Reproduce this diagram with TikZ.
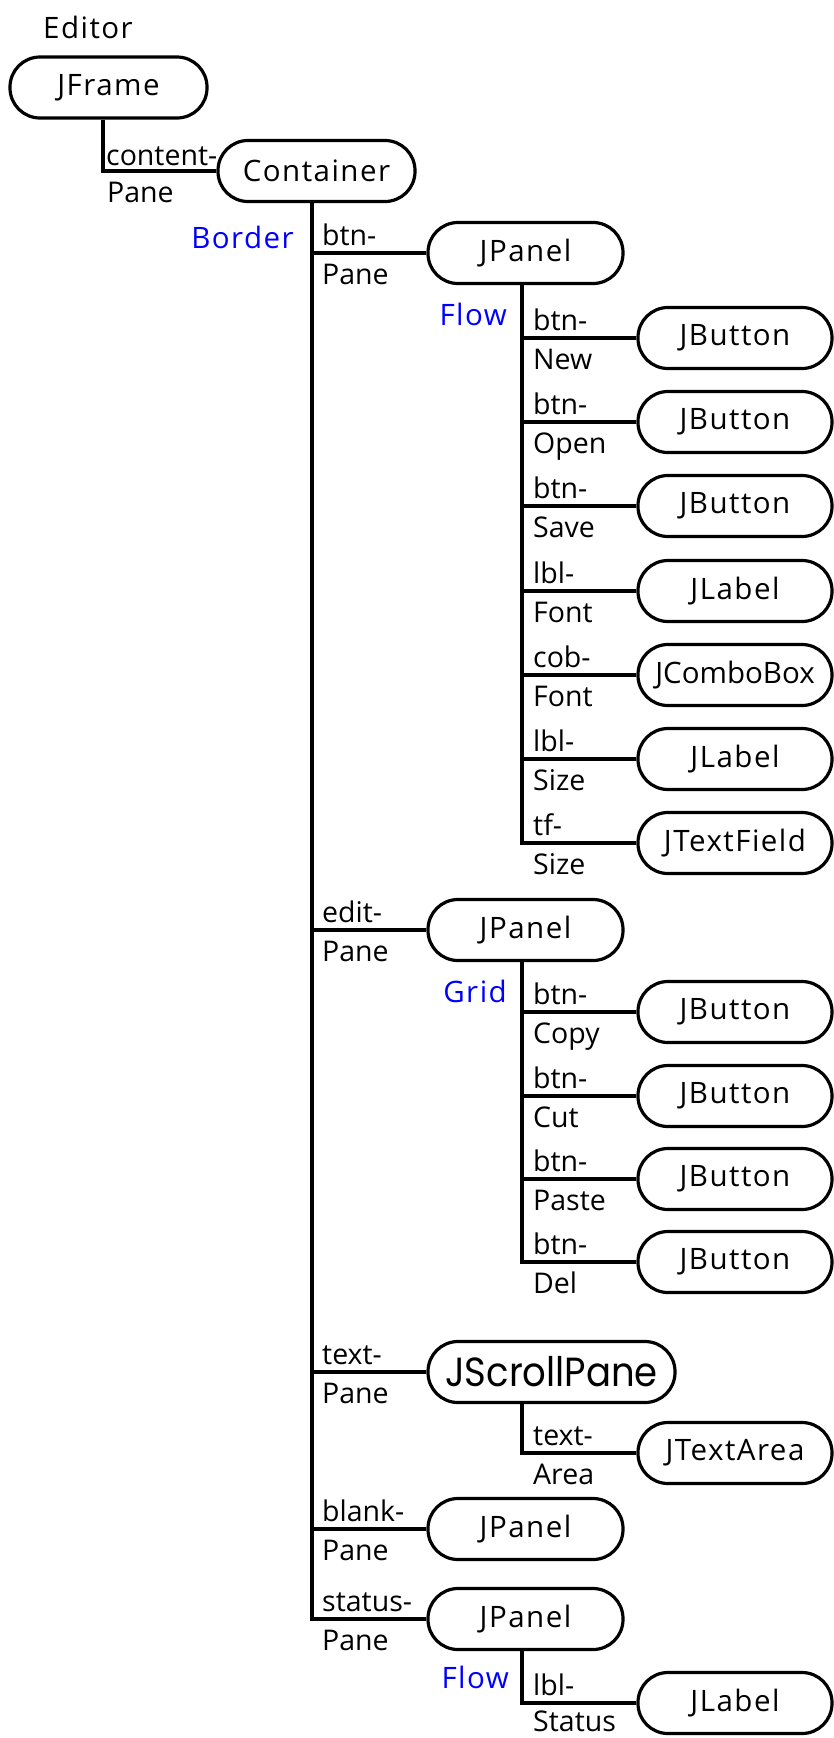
\documentclass[tikz,border=0pt]{standalone}
\usepackage{fontspec}
\setmainfont{Open Sans}
\newfontfamily\nodefont[LetterSpace=5]{Open Sans}
\newfontfamily\geofont{Poppins}
\begin{document}
\begin{tikzpicture}[x=1pt,y=-1pt,
  wire/.style={line width=3.2pt},
  comp/.style={draw, line width=3.2pt, rounded corners=30pt, minimum width=195pt,
    minimum height=61pt, inner sep=0pt, font=\nodefont\fontsize{29.5}{30}\selectfont},
  leaf/.style={comp, minimum width=194pt},
  lbl/.style={anchor=base west, inner sep=0pt, font=\fontsize{28.5}{29}\selectfont},
  lay/.style={anchor=base east, inner sep=0pt, text=blue, font=\nodefont\fontsize{29.5}{30}\selectfont}]
\useasboundingbox (0,0) rectangle (834,1738);

% top of the tree
\node[lbl, font=\nodefont\fontsize{29.5}{30}\selectfont] (editor) at (43,38) {Editor};
\node[comp, minimum width=197pt] (frame) at (108.5,87.5) {JFrame};
\node[comp, minimum width=197pt] (cont) at (316.5,171) {Container};
\draw[wire] ([xshift=-5.5pt]frame.south) |- (cont.west);
\node[lbl] (l-content) at (106,165) {content-};
\node[lbl] (l-contentb) at (107,202) {Pane};
\node[lay] (border) at (294,248) {Border};

% children of the content pane
\node[comp] (btnp) at (525.5,253) {JPanel};
\node[comp] (editp) at (525.5,930) {JPanel};
\node[comp, minimum width=247pt, font=\geofont\fontsize{37}{37}\selectfont] (scroll) at (551.5,1372)
  {\scalebox{1}[1.1]{JScrollPane}};
\node[comp] (blankp) at (525.5,1529) {JPanel};
\node[comp] (statp) at (525.5,1619) {JPanel};

\coordinate (trunk) at ([xshift=-4.5pt]cont.south);
\foreach \n in {btnp,editp,scroll,blankp,statp} \draw[wire] (trunk) |- (\n.west);

\node[lbl] at (322,245) {btn-};     \node[lbl] at (322,284) {Pane};
\node[lbl] at (322,922) {edit-};    \node[lbl] at (322,961) {Pane};
\node[lbl] at (322,1364) {text-};   \node[lbl] at (322,1403) {Pane};
\node[lbl] at (322,1521) {blank-};  \node[lbl] at (322,1560) {Pane};
\node[lbl] at (322,1611) {status-}; \node[lbl] at (322,1650) {Pane};

% button pane (FlowLayout)
\node[lay] (flow1) at (507,325) {Flow};
\node[leaf] (bnew)  at (735,338) {JButton};
\node[leaf] (bopen) at (735,422) {JButton};
\node[leaf] (bsave) at (735,506) {JButton};
\node[leaf] (lfont) at (735,591) {JLabel};
\node[leaf, font=\fontsize{29.5}{30}\selectfont] (cfont) at (735,675) {JComboBox};
\node[leaf] (lsize) at (735,759) {JLabel};
\node[leaf] (tsize) at (735,843) {JTextField};
\coordinate (b-trunk) at ([xshift=-3.5pt]btnp.south);
\foreach \n in {bnew,bopen,bsave,lfont,cfont,lsize,tsize} \draw[wire] (b-trunk) |- (\n.west);
\node[lbl] at (533,330) {btn-}; \node[lbl] at (533,369) {New};
\node[lbl] at (533,414) {btn-}; \node[lbl] at (533,453) {Open};
\node[lbl] at (533,498) {btn-}; \node[lbl] at (533,537) {Save};
\node[lbl] at (533,583) {lbl-}; \node[lbl] at (533,622) {Font};
\node[lbl] at (533,667) {cob-}; \node[lbl] at (533,706) {Font};
\node[lbl] at (533,751) {lbl-}; \node[lbl] at (533,790) {Size};
\node[lbl] at (533,835) {tf-};  \node[lbl] at (533,874) {Size};

% edit pane (GridLayout)
\node[lay] (grid) at (507,1002) {Grid};
\node[leaf] (bcopy)  at (735,1012) {JButton};
\node[leaf] (bcut)   at (735,1096) {JButton};
\node[leaf] (bpaste) at (735,1179) {JButton};
\node[leaf] (bdel)   at (735,1262) {JButton};
\coordinate (e-trunk) at ([xshift=-3.5pt]editp.south);
\foreach \n in {bcopy,bcut,bpaste,bdel} \draw[wire] (e-trunk) |- (\n.west);
\node[lbl] at (533,1004) {btn-}; \node[lbl] at (533,1043) {Copy};
\node[lbl] at (533,1088) {btn-}; \node[lbl] at (533,1127) {Cut};
\node[lbl] at (533,1171) {btn-}; \node[lbl] at (533,1210) {Paste};
\node[lbl] at (533,1254) {btn-}; \node[lbl] at (533,1293) {Del};

% scroll pane
\node[leaf] (tarea) at (735,1453) {JTextArea};
\draw[wire] ([xshift=-29.5pt]scroll.south) |- (tarea.west);
\node[lbl] at (533,1445) {text-}; \node[lbl] at (533,1484) {Area};

% status pane (FlowLayout)
\node[lay] (flow2) at (509,1688) {Flow};
\node[leaf] (lstat) at (735,1703) {JLabel};
\draw[wire] ([xshift=-3.5pt]statp.south) |- (lstat.west);
\node[lbl] at (533,1695) {lbl-}; \node[lbl] at (533,1731) {Status};
\end{tikzpicture}
\end{document}
